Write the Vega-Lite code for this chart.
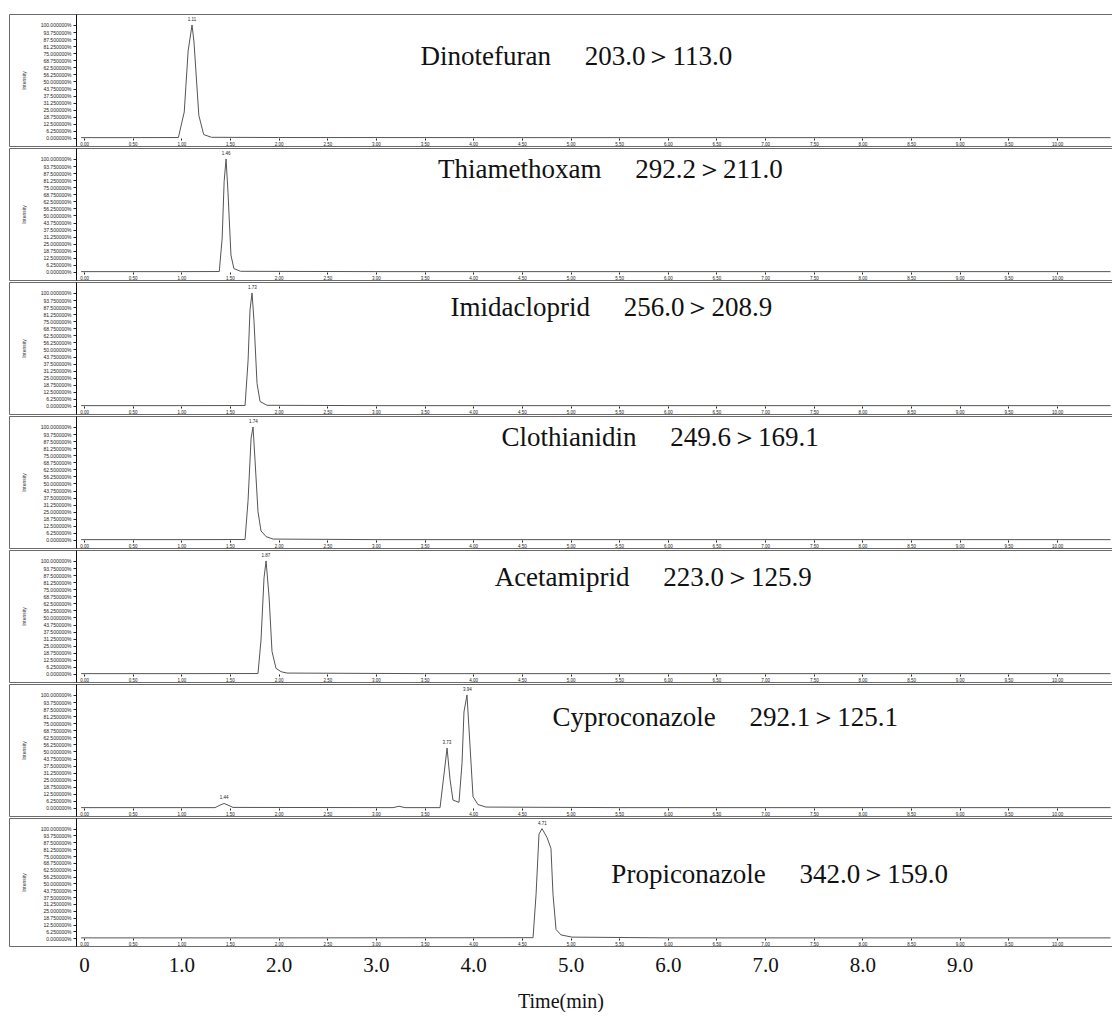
{
  "$schema": "https://vega.github.io/schema/vega-lite/v6.json",
  "padding": {"left": 8, "top": 13, "right": 1, "bottom": 0},
  "background": "white",
  "config": {
    "view": {"stroke": "#6b6b6b", "strokeWidth": 1},
    "concat": {"spacing": 0}
  },
  "spacing": 0,
  "datasets": {
    "trace": [
      {"compound": "Dinotefuran", "time": -0.03, "intensity": 0.3},
      {"compound": "Dinotefuran", "time": 0.5, "intensity": 0.3},
      {"compound": "Dinotefuran", "time": 0.97, "intensity": 0.4},
      {"compound": "Dinotefuran", "time": 1.03, "intensity": 23},
      {"compound": "Dinotefuran", "time": 1.07, "intensity": 77},
      {"compound": "Dinotefuran", "time": 1.11, "intensity": 100},
      {"compound": "Dinotefuran", "time": 1.13, "intensity": 85},
      {"compound": "Dinotefuran", "time": 1.18, "intensity": 20},
      {"compound": "Dinotefuran", "time": 1.23, "intensity": 3},
      {"compound": "Dinotefuran", "time": 1.31, "intensity": 0.6},
      {"compound": "Dinotefuran", "time": 2.0, "intensity": 0.4},
      {"compound": "Dinotefuran", "time": 5.0, "intensity": 0.3},
      {"compound": "Dinotefuran", "time": 10.55, "intensity": 0.3},
      {"compound": "Thiamethoxam", "time": -0.03, "intensity": 0.3},
      {"compound": "Thiamethoxam", "time": 1.0, "intensity": 0.3},
      {"compound": "Thiamethoxam", "time": 1.39, "intensity": 0.4},
      {"compound": "Thiamethoxam", "time": 1.42, "intensity": 30},
      {"compound": "Thiamethoxam", "time": 1.44, "intensity": 80},
      {"compound": "Thiamethoxam", "time": 1.46, "intensity": 100},
      {"compound": "Thiamethoxam", "time": 1.48, "intensity": 70},
      {"compound": "Thiamethoxam", "time": 1.51, "intensity": 15},
      {"compound": "Thiamethoxam", "time": 1.54, "intensity": 3},
      {"compound": "Thiamethoxam", "time": 1.61, "intensity": 0.6},
      {"compound": "Thiamethoxam", "time": 3.0, "intensity": 0.3},
      {"compound": "Thiamethoxam", "time": 10.55, "intensity": 0.3},
      {"compound": "Imidacloprid", "time": -0.03, "intensity": 0.3},
      {"compound": "Imidacloprid", "time": 1.0, "intensity": 0.3},
      {"compound": "Imidacloprid", "time": 1.655, "intensity": 0.4},
      {"compound": "Imidacloprid", "time": 1.686, "intensity": 40},
      {"compound": "Imidacloprid", "time": 1.706, "intensity": 85},
      {"compound": "Imidacloprid", "time": 1.727, "intensity": 100},
      {"compound": "Imidacloprid", "time": 1.747, "intensity": 75},
      {"compound": "Imidacloprid", "time": 1.778, "intensity": 20},
      {"compound": "Imidacloprid", "time": 1.809, "intensity": 4},
      {"compound": "Imidacloprid", "time": 1.881, "intensity": 0.6},
      {"compound": "Imidacloprid", "time": 3.0, "intensity": 0.3},
      {"compound": "Imidacloprid", "time": 10.55, "intensity": 0.3},
      {"compound": "Clothianidin", "time": -0.03, "intensity": 0.3},
      {"compound": "Clothianidin", "time": 1.0, "intensity": 0.3},
      {"compound": "Clothianidin", "time": 1.655, "intensity": 0.4},
      {"compound": "Clothianidin", "time": 1.686, "intensity": 35},
      {"compound": "Clothianidin", "time": 1.717, "intensity": 90},
      {"compound": "Clothianidin", "time": 1.737, "intensity": 100},
      {"compound": "Clothianidin", "time": 1.758, "intensity": 70},
      {"compound": "Clothianidin", "time": 1.788, "intensity": 25},
      {"compound": "Clothianidin", "time": 1.819, "intensity": 8},
      {"compound": "Clothianidin", "time": 1.871, "intensity": 3},
      {"compound": "Clothianidin", "time": 1.942, "intensity": 0.8},
      {"compound": "Clothianidin", "time": 3.0, "intensity": 0.3},
      {"compound": "Clothianidin", "time": 10.55, "intensity": 0.3},
      {"compound": "Acetamiprid", "time": -0.03, "intensity": 0.3},
      {"compound": "Acetamiprid", "time": 1.0, "intensity": 0.3},
      {"compound": "Acetamiprid", "time": 1.788, "intensity": 0.4},
      {"compound": "Acetamiprid", "time": 1.819, "intensity": 30},
      {"compound": "Acetamiprid", "time": 1.85, "intensity": 85},
      {"compound": "Acetamiprid", "time": 1.871, "intensity": 100},
      {"compound": "Acetamiprid", "time": 1.902, "intensity": 68},
      {"compound": "Acetamiprid", "time": 1.932, "intensity": 20},
      {"compound": "Acetamiprid", "time": 1.973, "intensity": 5},
      {"compound": "Acetamiprid", "time": 2.025, "intensity": 2},
      {"compound": "Acetamiprid", "time": 2.086, "intensity": 0.8},
      {"compound": "Acetamiprid", "time": 3.5, "intensity": 0.3},
      {"compound": "Acetamiprid", "time": 10.55, "intensity": 0.3},
      {"compound": "Cyproconazole", "time": -0.03, "intensity": 0.3},
      {"compound": "Cyproconazole", "time": 1.0, "intensity": 0.3},
      {"compound": "Cyproconazole", "time": 1.346, "intensity": 0.3},
      {"compound": "Cyproconazole", "time": 1.398, "intensity": 2.5},
      {"compound": "Cyproconazole", "time": 1.439, "intensity": 4},
      {"compound": "Cyproconazole", "time": 1.48, "intensity": 2.5},
      {"compound": "Cyproconazole", "time": 1.531, "intensity": 0.5},
      {"compound": "Cyproconazole", "time": 3.176, "intensity": 0.3},
      {"compound": "Cyproconazole", "time": 3.237, "intensity": 1.5},
      {"compound": "Cyproconazole", "time": 3.3, "intensity": 0.3},
      {"compound": "Cyproconazole", "time": 3.659, "intensity": 0.3},
      {"compound": "Cyproconazole", "time": 3.7, "intensity": 30},
      {"compound": "Cyproconazole", "time": 3.731, "intensity": 53},
      {"compound": "Cyproconazole", "time": 3.762, "intensity": 25},
      {"compound": "Cyproconazole", "time": 3.792, "intensity": 7},
      {"compound": "Cyproconazole", "time": 3.854, "intensity": 5},
      {"compound": "Cyproconazole", "time": 3.885, "intensity": 40},
      {"compound": "Cyproconazole", "time": 3.905, "intensity": 85},
      {"compound": "Cyproconazole", "time": 3.936, "intensity": 100},
      {"compound": "Cyproconazole", "time": 3.967, "intensity": 55},
      {"compound": "Cyproconazole", "time": 3.998, "intensity": 10},
      {"compound": "Cyproconazole", "time": 4.049, "intensity": 3},
      {"compound": "Cyproconazole", "time": 4.131, "intensity": 0.8},
      {"compound": "Cyproconazole", "time": 5.5, "intensity": 0.3},
      {"compound": "Cyproconazole", "time": 10.55, "intensity": 0.3},
      {"compound": "Propiconazole", "time": -0.03, "intensity": 0.3},
      {"compound": "Propiconazole", "time": 2.0, "intensity": 0.3},
      {"compound": "Propiconazole", "time": 4.615, "intensity": 0.5},
      {"compound": "Propiconazole", "time": 4.646, "intensity": 40},
      {"compound": "Propiconazole", "time": 4.676, "intensity": 95},
      {"compound": "Propiconazole", "time": 4.707, "intensity": 100},
      {"compound": "Propiconazole", "time": 4.758, "intensity": 92},
      {"compound": "Propiconazole", "time": 4.799, "intensity": 82},
      {"compound": "Propiconazole", "time": 4.82, "intensity": 40},
      {"compound": "Propiconazole", "time": 4.851, "intensity": 8},
      {"compound": "Propiconazole", "time": 4.902, "intensity": 3},
      {"compound": "Propiconazole", "time": 5.015, "intensity": 1},
      {"compound": "Propiconazole", "time": 6.0, "intensity": 0.3},
      {"compound": "Propiconazole", "time": 10.55, "intensity": 0.3}
    ],
    "apex": [
      {"compound": "Dinotefuran", "time": 1.11, "intensity": 100},
      {"compound": "Thiamethoxam", "time": 1.46, "intensity": 100},
      {"compound": "Imidacloprid", "time": 1.73, "intensity": 100},
      {"compound": "Clothianidin", "time": 1.74, "intensity": 100},
      {"compound": "Acetamiprid", "time": 1.87, "intensity": 100},
      {"compound": "Cyproconazole", "time": 1.44, "intensity": 4},
      {"compound": "Cyproconazole", "time": 3.73, "intensity": 53},
      {"compound": "Cyproconazole", "time": 3.94, "intensity": 100},
      {"compound": "Propiconazole", "time": 4.71, "intensity": 100}
    ],
    "labels": [
      {"compound": "Dinotefuran", "label": "Dinotefuran\u00a0\u00a0\u00a0\u00a0\u00a0203.0\uff1e113.0"},
      {"compound": "Thiamethoxam", "label": "Thiamethoxam\u00a0\u00a0\u00a0\u00a0\u00a0292.2\uff1e211.0"},
      {"compound": "Imidacloprid", "label": "Imidacloprid\u00a0\u00a0\u00a0\u00a0\u00a0256.0\uff1e208.9"},
      {"compound": "Clothianidin", "label": "Clothianidin\u00a0\u00a0\u00a0\u00a0\u00a0249.6\uff1e169.1"},
      {"compound": "Acetamiprid", "label": "Acetamiprid\u00a0\u00a0\u00a0\u00a0\u00a0223.0\uff1e125.9"},
      {"compound": "Cyproconazole", "label": "Cyproconazole\u00a0\u00a0\u00a0\u00a0\u00a0292.1\uff1e125.1"},
      {"compound": "Propiconazole", "label": "Propiconazole\u00a0\u00a0\u00a0\u00a0\u00a0342.0\uff1e159.0"}
    ]
  },
  "vconcat": [
    {
      "width": 1103, "height": 132,
      "resolve": {"axis": {"x": "independent", "y": "independent"}},
      "layer": [
        {"data": {"name": "trace"}, "transform": [{"filter": "datum.compound === 'Dinotefuran'"}],
         "mark": {"type": "line", "color": "#555555", "strokeWidth": 1, "clip": true},
         "encoding": {
           "x": {"field": "time", "type": "quantitative", "scale": {"domain": [-0.771, 10.565], "nice": false, "zero": false},
                 "axis": {"orient": "bottom", "offset": -8, "values": [0,0.5,1,1.5,2,2.5,3,3.5,4,4.5,5,5.5,6,6.5,7,7.5,8,8.5,9,9.5,10], "labelExpr": "format(datum.value,'.2f')", "labelFontSize": 4.5, "labelColor": "#222", "tickSize": 2, "tickColor": "#222", "labelPadding": 1, "domain": false, "grid": false, "title": null, "labelOverlap": false, "labelFlush": false}},
           "y": {"field": "intensity", "type": "quantitative", "scale": {"domain": [-7.1, 109.7], "nice": false, "zero": false},
                 "axis": {"orient": "left", "offset": -67, "values": [0,6.25,12.5,18.75,25,31.25,37.5,43.75,50,56.25,62.5,68.75,75,81.25,87.5,93.75,100], "labelExpr": "format(datum.value,'.6f')+'%'", "labelFontSize": 5, "labelColor": "#222", "tickSize": 3, "tickColor": "#222", "domainColor": "#111", "grid": false, "title": "Intensity", "titleFontSize": 5, "titleFontWeight": "normal", "titleColor": "#333", "titlePadding": 14, "labelOverlap": false}}
         }},
        {"data": {"name": "apex"}, "transform": [{"filter": "datum.compound === 'Dinotefuran'"}],
         "mark": {"type": "text", "fontSize": 4.5, "dy": -5, "color": "#222"},
         "encoding": {
           "x": {"field": "time", "type": "quantitative", "scale": {"domain": [-0.771, 10.565], "nice": false, "zero": false}, "axis": null},
           "y": {"field": "intensity", "type": "quantitative", "scale": {"domain": [-7.1, 109.7], "nice": false, "zero": false}, "axis": null},
           "text": {"field": "time", "type": "quantitative", "format": ".2f"}
         }},
        {"data": {"name": "labels"}, "transform": [{"filter": "datum.compound === 'Dinotefuran'"}],
         "mark": {"type": "text", "font": "Liberation Serif", "fontSize": 27, "color": "#111", "baseline": "middle"},
         "encoding": {
           "x": {"datum": 5.06, "type": "quantitative", "scale": {"domain": [-0.771, 10.565], "nice": false, "zero": false}, "axis": null},
           "y": {"datum": 72, "type": "quantitative", "scale": {"domain": [-7.1, 109.7], "nice": false, "zero": false}, "axis": null},
           "text": {"field": "label"}
         }}
      ]
    },
    {
      "width": 1103, "height": 132,
      "resolve": {"axis": {"x": "independent", "y": "independent"}},
      "layer": [
        {"data": {"name": "trace"}, "transform": [{"filter": "datum.compound === 'Thiamethoxam'"}],
         "mark": {"type": "line", "color": "#555555", "strokeWidth": 1, "clip": true},
         "encoding": {
           "x": {"field": "time", "type": "quantitative", "scale": {"domain": [-0.771, 10.565], "nice": false, "zero": false},
                 "axis": {"orient": "bottom", "offset": -8, "values": [0,0.5,1,1.5,2,2.5,3,3.5,4,4.5,5,5.5,6,6.5,7,7.5,8,8.5,9,9.5,10], "labelExpr": "format(datum.value,'.2f')", "labelFontSize": 4.5, "labelColor": "#222", "tickSize": 2, "tickColor": "#222", "labelPadding": 1, "domain": false, "grid": false, "title": null, "labelOverlap": false, "labelFlush": false}},
           "y": {"field": "intensity", "type": "quantitative", "scale": {"domain": [-7.1, 109.7], "nice": false, "zero": false},
                 "axis": {"orient": "left", "offset": -67, "values": [0,6.25,12.5,18.75,25,31.25,37.5,43.75,50,56.25,62.5,68.75,75,81.25,87.5,93.75,100], "labelExpr": "format(datum.value,'.6f')+'%'", "labelFontSize": 5, "labelColor": "#222", "tickSize": 3, "tickColor": "#222", "domainColor": "#111", "grid": false, "title": "Intensity", "titleFontSize": 5, "titleFontWeight": "normal", "titleColor": "#333", "titlePadding": 14, "labelOverlap": false}}
         }},
        {"data": {"name": "apex"}, "transform": [{"filter": "datum.compound === 'Thiamethoxam'"}],
         "mark": {"type": "text", "fontSize": 4.5, "dy": -5, "color": "#222"},
         "encoding": {
           "x": {"field": "time", "type": "quantitative", "scale": {"domain": [-0.771, 10.565], "nice": false, "zero": false}, "axis": null},
           "y": {"field": "intensity", "type": "quantitative", "scale": {"domain": [-7.1, 109.7], "nice": false, "zero": false}, "axis": null},
           "text": {"field": "time", "type": "quantitative", "format": ".2f"}
         }},
        {"data": {"name": "labels"}, "transform": [{"filter": "datum.compound === 'Thiamethoxam'"}],
         "mark": {"type": "text", "font": "Liberation Serif", "fontSize": 27, "color": "#111", "baseline": "middle"},
         "encoding": {
           "x": {"datum": 5.41, "type": "quantitative", "scale": {"domain": [-0.771, 10.565], "nice": false, "zero": false}, "axis": null},
           "y": {"datum": 90, "type": "quantitative", "scale": {"domain": [-7.1, 109.7], "nice": false, "zero": false}, "axis": null},
           "text": {"field": "label"}
         }}
      ]
    },
    {
      "width": 1103, "height": 132,
      "resolve": {"axis": {"x": "independent", "y": "independent"}},
      "layer": [
        {"data": {"name": "trace"}, "transform": [{"filter": "datum.compound === 'Imidacloprid'"}],
         "mark": {"type": "line", "color": "#555555", "strokeWidth": 1, "clip": true},
         "encoding": {
           "x": {"field": "time", "type": "quantitative", "scale": {"domain": [-0.771, 10.565], "nice": false, "zero": false},
                 "axis": {"orient": "bottom", "offset": -8, "values": [0,0.5,1,1.5,2,2.5,3,3.5,4,4.5,5,5.5,6,6.5,7,7.5,8,8.5,9,9.5,10], "labelExpr": "format(datum.value,'.2f')", "labelFontSize": 4.5, "labelColor": "#222", "tickSize": 2, "tickColor": "#222", "labelPadding": 1, "domain": false, "grid": false, "title": null, "labelOverlap": false, "labelFlush": false}},
           "y": {"field": "intensity", "type": "quantitative", "scale": {"domain": [-7.1, 109.7], "nice": false, "zero": false},
                 "axis": {"orient": "left", "offset": -67, "values": [0,6.25,12.5,18.75,25,31.25,37.5,43.75,50,56.25,62.5,68.75,75,81.25,87.5,93.75,100], "labelExpr": "format(datum.value,'.6f')+'%'", "labelFontSize": 5, "labelColor": "#222", "tickSize": 3, "tickColor": "#222", "domainColor": "#111", "grid": false, "title": "Intensity", "titleFontSize": 5, "titleFontWeight": "normal", "titleColor": "#333", "titlePadding": 14, "labelOverlap": false}}
         }},
        {"data": {"name": "apex"}, "transform": [{"filter": "datum.compound === 'Imidacloprid'"}],
         "mark": {"type": "text", "fontSize": 4.5, "dy": -5, "color": "#222"},
         "encoding": {
           "x": {"field": "time", "type": "quantitative", "scale": {"domain": [-0.771, 10.565], "nice": false, "zero": false}, "axis": null},
           "y": {"field": "intensity", "type": "quantitative", "scale": {"domain": [-7.1, 109.7], "nice": false, "zero": false}, "axis": null},
           "text": {"field": "time", "type": "quantitative", "format": ".2f"}
         }},
        {"data": {"name": "labels"}, "transform": [{"filter": "datum.compound === 'Imidacloprid'"}],
         "mark": {"type": "text", "font": "Liberation Serif", "fontSize": 27, "color": "#111", "baseline": "middle"},
         "encoding": {
           "x": {"datum": 5.42, "type": "quantitative", "scale": {"domain": [-0.771, 10.565], "nice": false, "zero": false}, "axis": null},
           "y": {"datum": 87, "type": "quantitative", "scale": {"domain": [-7.1, 109.7], "nice": false, "zero": false}, "axis": null},
           "text": {"field": "label"}
         }}
      ]
    },
    {
      "width": 1103, "height": 132,
      "resolve": {"axis": {"x": "independent", "y": "independent"}},
      "layer": [
        {"data": {"name": "trace"}, "transform": [{"filter": "datum.compound === 'Clothianidin'"}],
         "mark": {"type": "line", "color": "#555555", "strokeWidth": 1, "clip": true},
         "encoding": {
           "x": {"field": "time", "type": "quantitative", "scale": {"domain": [-0.771, 10.565], "nice": false, "zero": false},
                 "axis": {"orient": "bottom", "offset": -8, "values": [0,0.5,1,1.5,2,2.5,3,3.5,4,4.5,5,5.5,6,6.5,7,7.5,8,8.5,9,9.5,10], "labelExpr": "format(datum.value,'.2f')", "labelFontSize": 4.5, "labelColor": "#222", "tickSize": 2, "tickColor": "#222", "labelPadding": 1, "domain": false, "grid": false, "title": null, "labelOverlap": false, "labelFlush": false}},
           "y": {"field": "intensity", "type": "quantitative", "scale": {"domain": [-7.1, 109.7], "nice": false, "zero": false},
                 "axis": {"orient": "left", "offset": -67, "values": [0,6.25,12.5,18.75,25,31.25,37.5,43.75,50,56.25,62.5,68.75,75,81.25,87.5,93.75,100], "labelExpr": "format(datum.value,'.6f')+'%'", "labelFontSize": 5, "labelColor": "#222", "tickSize": 3, "tickColor": "#222", "domainColor": "#111", "grid": false, "title": "Intensity", "titleFontSize": 5, "titleFontWeight": "normal", "titleColor": "#333", "titlePadding": 14, "labelOverlap": false}}
         }},
        {"data": {"name": "apex"}, "transform": [{"filter": "datum.compound === 'Clothianidin'"}],
         "mark": {"type": "text", "fontSize": 4.5, "dy": -5, "color": "#222"},
         "encoding": {
           "x": {"field": "time", "type": "quantitative", "scale": {"domain": [-0.771, 10.565], "nice": false, "zero": false}, "axis": null},
           "y": {"field": "intensity", "type": "quantitative", "scale": {"domain": [-7.1, 109.7], "nice": false, "zero": false}, "axis": null},
           "text": {"field": "time", "type": "quantitative", "format": ".2f"}
         }},
        {"data": {"name": "labels"}, "transform": [{"filter": "datum.compound === 'Clothianidin'"}],
         "mark": {"type": "text", "font": "Liberation Serif", "fontSize": 27, "color": "#111", "baseline": "middle"},
         "encoding": {
           "x": {"datum": 5.92, "type": "quantitative", "scale": {"domain": [-0.771, 10.565], "nice": false, "zero": false}, "axis": null},
           "y": {"datum": 90, "type": "quantitative", "scale": {"domain": [-7.1, 109.7], "nice": false, "zero": false}, "axis": null},
           "text": {"field": "label"}
         }}
      ]
    },
    {
      "width": 1103, "height": 132,
      "resolve": {"axis": {"x": "independent", "y": "independent"}},
      "layer": [
        {"data": {"name": "trace"}, "transform": [{"filter": "datum.compound === 'Acetamiprid'"}],
         "mark": {"type": "line", "color": "#555555", "strokeWidth": 1, "clip": true},
         "encoding": {
           "x": {"field": "time", "type": "quantitative", "scale": {"domain": [-0.771, 10.565], "nice": false, "zero": false},
                 "axis": {"orient": "bottom", "offset": -8, "values": [0,0.5,1,1.5,2,2.5,3,3.5,4,4.5,5,5.5,6,6.5,7,7.5,8,8.5,9,9.5,10], "labelExpr": "format(datum.value,'.2f')", "labelFontSize": 4.5, "labelColor": "#222", "tickSize": 2, "tickColor": "#222", "labelPadding": 1, "domain": false, "grid": false, "title": null, "labelOverlap": false, "labelFlush": false}},
           "y": {"field": "intensity", "type": "quantitative", "scale": {"domain": [-7.1, 109.7], "nice": false, "zero": false},
                 "axis": {"orient": "left", "offset": -67, "values": [0,6.25,12.5,18.75,25,31.25,37.5,43.75,50,56.25,62.5,68.75,75,81.25,87.5,93.75,100], "labelExpr": "format(datum.value,'.6f')+'%'", "labelFontSize": 5, "labelColor": "#222", "tickSize": 3, "tickColor": "#222", "domainColor": "#111", "grid": false, "title": "Intensity", "titleFontSize": 5, "titleFontWeight": "normal", "titleColor": "#333", "titlePadding": 14, "labelOverlap": false}}
         }},
        {"data": {"name": "apex"}, "transform": [{"filter": "datum.compound === 'Acetamiprid'"}],
         "mark": {"type": "text", "fontSize": 4.5, "dy": -5, "color": "#222"},
         "encoding": {
           "x": {"field": "time", "type": "quantitative", "scale": {"domain": [-0.771, 10.565], "nice": false, "zero": false}, "axis": null},
           "y": {"field": "intensity", "type": "quantitative", "scale": {"domain": [-7.1, 109.7], "nice": false, "zero": false}, "axis": null},
           "text": {"field": "time", "type": "quantitative", "format": ".2f"}
         }},
        {"data": {"name": "labels"}, "transform": [{"filter": "datum.compound === 'Acetamiprid'"}],
         "mark": {"type": "text", "font": "Liberation Serif", "fontSize": 27, "color": "#111", "baseline": "middle"},
         "encoding": {
           "x": {"datum": 5.85, "type": "quantitative", "scale": {"domain": [-0.771, 10.565], "nice": false, "zero": false}, "axis": null},
           "y": {"datum": 85, "type": "quantitative", "scale": {"domain": [-7.1, 109.7], "nice": false, "zero": false}, "axis": null},
           "text": {"field": "label"}
         }}
      ]
    },
    {
      "width": 1103, "height": 132,
      "resolve": {"axis": {"x": "independent", "y": "independent"}},
      "layer": [
        {"data": {"name": "trace"}, "transform": [{"filter": "datum.compound === 'Cyproconazole'"}],
         "mark": {"type": "line", "color": "#555555", "strokeWidth": 1, "clip": true},
         "encoding": {
           "x": {"field": "time", "type": "quantitative", "scale": {"domain": [-0.771, 10.565], "nice": false, "zero": false},
                 "axis": {"orient": "bottom", "offset": -8, "values": [0,0.5,1,1.5,2,2.5,3,3.5,4,4.5,5,5.5,6,6.5,7,7.5,8,8.5,9,9.5,10], "labelExpr": "format(datum.value,'.2f')", "labelFontSize": 4.5, "labelColor": "#222", "tickSize": 2, "tickColor": "#222", "labelPadding": 1, "domain": false, "grid": false, "title": null, "labelOverlap": false, "labelFlush": false}},
           "y": {"field": "intensity", "type": "quantitative", "scale": {"domain": [-7.1, 109.7], "nice": false, "zero": false},
                 "axis": {"orient": "left", "offset": -67, "values": [0,6.25,12.5,18.75,25,31.25,37.5,43.75,50,56.25,62.5,68.75,75,81.25,87.5,93.75,100], "labelExpr": "format(datum.value,'.6f')+'%'", "labelFontSize": 5, "labelColor": "#222", "tickSize": 3, "tickColor": "#222", "domainColor": "#111", "grid": false, "title": "Intensity", "titleFontSize": 5, "titleFontWeight": "normal", "titleColor": "#333", "titlePadding": 14, "labelOverlap": false}}
         }},
        {"data": {"name": "apex"}, "transform": [{"filter": "datum.compound === 'Cyproconazole'"}],
         "mark": {"type": "text", "fontSize": 4.5, "dy": -5, "color": "#222"},
         "encoding": {
           "x": {"field": "time", "type": "quantitative", "scale": {"domain": [-0.771, 10.565], "nice": false, "zero": false}, "axis": null},
           "y": {"field": "intensity", "type": "quantitative", "scale": {"domain": [-7.1, 109.7], "nice": false, "zero": false}, "axis": null},
           "text": {"field": "time", "type": "quantitative", "format": ".2f"}
         }},
        {"data": {"name": "labels"}, "transform": [{"filter": "datum.compound === 'Cyproconazole'"}],
         "mark": {"type": "text", "font": "Liberation Serif", "fontSize": 27, "color": "#111", "baseline": "middle"},
         "encoding": {
           "x": {"datum": 6.59, "type": "quantitative", "scale": {"domain": [-0.771, 10.565], "nice": false, "zero": false}, "axis": null},
           "y": {"datum": 80, "type": "quantitative", "scale": {"domain": [-7.1, 109.7], "nice": false, "zero": false}, "axis": null},
           "text": {"field": "label"}
         }}
      ]
    },
    {
      "width": 1103, "height": 128,
      "resolve": {"axis": {"x": "independent", "y": "independent"}},
      "layer": [
        {"data": {"name": "trace"}, "transform": [{"filter": "datum.compound === 'Propiconazole'"}],
         "mark": {"type": "line", "color": "#555555", "strokeWidth": 1, "clip": true},
         "encoding": {
           "x": {"field": "time", "type": "quantitative", "scale": {"domain": [-0.771, 10.565], "nice": false, "zero": false},
                 "axis": {"orient": "bottom", "offset": -8, "values": [0,0.5,1,1.5,2,2.5,3,3.5,4,4.5,5,5.5,6,6.5,7,7.5,8,8.5,9,9.5,10], "labelExpr": "format(datum.value,'.2f')", "labelFontSize": 4.5, "labelColor": "#222", "tickSize": 2, "tickColor": "#222", "labelPadding": 1, "domain": false, "grid": false, "title": null, "labelOverlap": false, "labelFlush": false}},
           "y": {"field": "intensity", "type": "quantitative", "scale": {"domain": [-7.1, 109.7], "nice": false, "zero": false},
                 "axis": {"orient": "left", "offset": -67, "values": [0,6.25,12.5,18.75,25,31.25,37.5,43.75,50,56.25,62.5,68.75,75,81.25,87.5,93.75,100], "labelExpr": "format(datum.value,'.6f')+'%'", "labelFontSize": 5, "labelColor": "#222", "tickSize": 3, "tickColor": "#222", "domainColor": "#111", "grid": false, "title": "Intensity", "titleFontSize": 5, "titleFontWeight": "normal", "titleColor": "#333", "titlePadding": 14, "labelOverlap": false}}
         }},
        {"data": {"name": "apex"}, "transform": [{"filter": "datum.compound === 'Propiconazole'"}],
         "mark": {"type": "text", "fontSize": 4.5, "dy": -5, "color": "#222"},
         "encoding": {
           "x": {"field": "time", "type": "quantitative", "scale": {"domain": [-0.771, 10.565], "nice": false, "zero": false},
                 "axis": {"orient": "bottom", "offset": 0, "values": [0,1,2,3,4,5,6,7,8,9], "labelExpr": "datum.value == 0 ? '0' : format(datum.value,'.1f')", "labelFont": "Liberation Serif", "labelFontSize": 21, "labelColor": "#111", "ticks": false, "domain": false, "grid": false, "labelPadding": 8, "title": "Time(min)", "titleFont": "Liberation Serif", "titleFontSize": 20, "titleFontWeight": "normal", "titleColor": "#111", "titlePadding": 16, "labelFlush": false}},
           "y": {"field": "intensity", "type": "quantitative", "scale": {"domain": [-7.1, 109.7], "nice": false, "zero": false}, "axis": null},
           "text": {"field": "time", "type": "quantitative", "format": ".2f"}
         }},
        {"data": {"name": "labels"}, "transform": [{"filter": "datum.compound === 'Propiconazole'"}],
         "mark": {"type": "text", "font": "Liberation Serif", "fontSize": 27, "color": "#111", "baseline": "middle"},
         "encoding": {
           "x": {"datum": 7.15, "type": "quantitative", "scale": {"domain": [-0.771, 10.565], "nice": false, "zero": false}, "axis": null},
           "y": {"datum": 58, "type": "quantitative", "scale": {"domain": [-7.1, 109.7], "nice": false, "zero": false}, "axis": null},
           "text": {"field": "label"}
         }}
      ]
    }
  ]
}
